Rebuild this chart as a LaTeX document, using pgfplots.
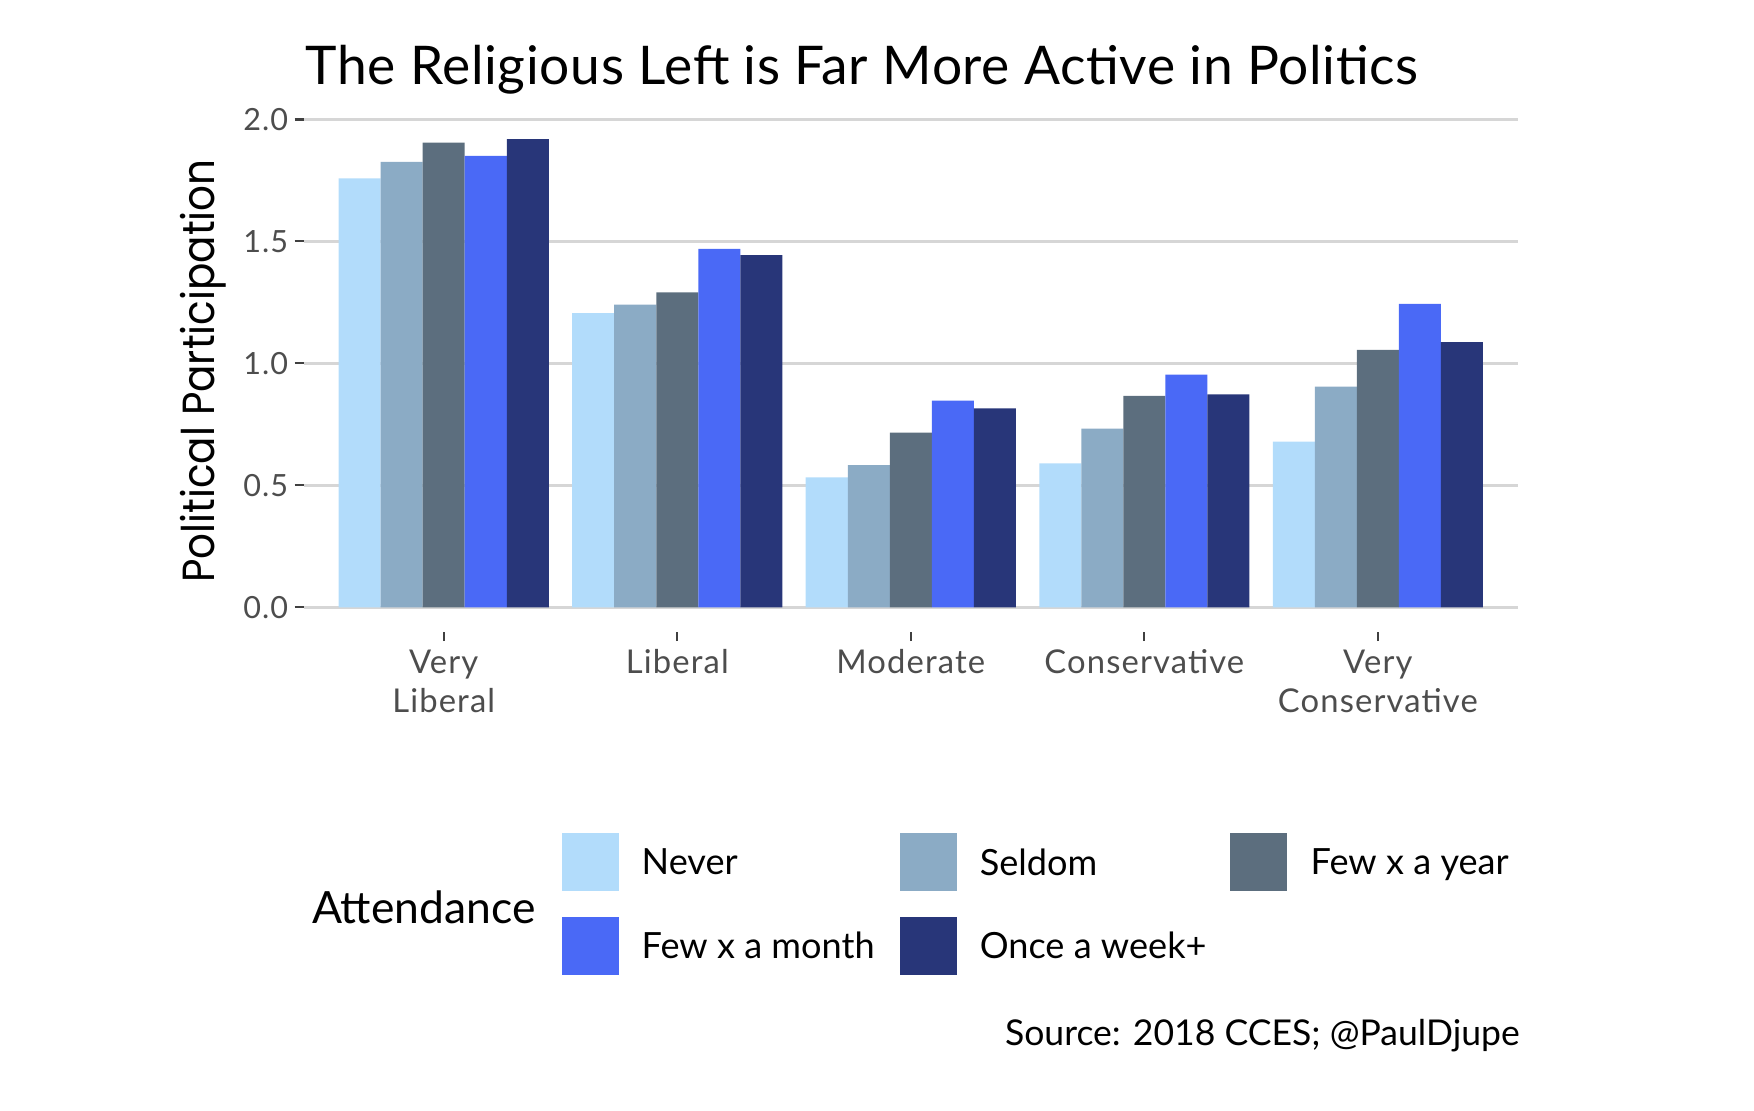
\documentclass[border=0pt]{standalone}
\usepackage{fontspec}
\setmainfont{Lato}
\newfontfamily\lsfont{Lato}[LetterSpace=3.5]
\newfontfamily\titlefont{Lato}[LetterSpace=1.2]
\newfontfamily\ylabfont{Poppins}[FakeStretch=0.9]
\usepackage{pgfplots}
\pgfplotsset{compat=1.18}
\definecolor{cNever}{HTML}{B2DCFB}
\definecolor{cSeldom}{HTML}{8BABC5}
\definecolor{cYear}{HTML}{5C6E7E}
\definecolor{cMonth}{HTML}{4A69F6}
\definecolor{cWeek}{HTML}{283679}
\definecolor{tickgray}{HTML}{4D4D4D}
\definecolor{gridgray}{HTML}{D6D6D6}
\newcommand{\lt}[2][0pt]{\raisebox{-1.2pt}{\makebox[#1][l]{#2}}}
\begin{document}
\begin{tikzpicture}
\begin{axis}[
  scale only axis, clip=false,
  width=437.18pt, height=185.62pt,
  xmin=0.4, xmax=5.6, ymin=-0.1013, ymax=2.0126,
  ybar=0pt, bar width=15.133pt,
  axis line style={draw=none},
  xtick={1,2,3,4,5},
  xticklabels={{Very\\Liberal},Liberal,Moderate,Conservative,{Very\\Conservative}},
  ytick={0,0.5,1,1.5,2},
  yticklabels={0.0,0.5,1.0,1.5,2.0},
  tick align=outside, xtick pos=left, ytick pos=left,
  major tick length=3.24pt,
  major tick style={color=black!75, line width=0.75pt},
  ymajorgrids,
  grid style={color=gridgray, line width=1.1pt},
  xticklabel style={anchor=north, align=center, inner sep=0pt, yshift=-2.9pt, text=tickgray, font=\lsfont\fontsize{11.8}{14.2}\selectfont},
  yticklabel style={anchor=east, inner sep=0pt, xshift=-2.1pt, text=tickgray, font=\lsfont\fontsize{11}{12}\selectfont},
  legend columns=3,
  legend cell align=left,
  legend image code/.code={\fill[#1,draw=none] (0pt,-10.44pt) rectangle (20.52pt,10.44pt);},
  legend style={at={(axis description cs:0.21295,-0.39026)}, anchor=north west,
    draw=none, fill=none, inner sep=0pt, outer sep=0pt, row sep=9.3pt,
    font=\fontsize{13}{16}\selectfont, nodes={inner sep=0pt},
    /tikz/every odd column/.append style={column sep=8.1pt},
    /tikz/every even column/.append style={column sep=0pt}},
]
\addplot[fill=cNever, draw=none] coordinates {(1,1.758) (2,1.206) (3,0.533) (4,0.590) (5,0.679)};
\addplot[fill=cSeldom, draw=none] coordinates {(1,1.826) (2,1.241) (3,0.583) (4,0.733) (5,0.905)};
\addplot[fill=cYear, draw=none] coordinates {(1,1.905) (2,1.291) (3,0.716) (4,0.867) (5,1.055)};
\addplot[fill=cMonth, draw=none] coordinates {(1,1.851) (2,1.469) (3,0.847) (4,0.954) (5,1.244)};
\addplot[fill=cWeek, draw=none] coordinates {(1,1.919) (2,1.444) (3,0.816) (4,0.873) (5,1.087)};
\legend{\lt[93.1pt]{Never},\lt[90pt]{Seldom},\lt{Few x a year},\lt[93.1pt]{Few x a month},\lt[90pt]{Once a week+}}
\node[anchor=base west, inner sep=0pt, font=\titlefont\fontsize{19.2}{23}\selectfont] at (axis description cs:0.00115,1.0609) {The Religious Left is Far More Active in Politics};
\node[rotate=90, anchor=base, inner sep=0pt, font=\ylabfont\fontsize{16.2}{19}\selectfont] at (axis description cs:-0.07296,0.5062) {Political Participation};
\node[anchor=base west, inner sep=0pt, font=\fontsize{16}{20}\selectfont] at (axis description cs:0.0066,-0.5646) {Attendance};
\node[anchor=base east, inner sep=0pt, font=\fontsize{12.8}{16}\selectfont] at (axis description cs:1.0018,-0.801) {Source: 2018 CCES; @PaulDjupe};
\coordinate (BL) at (axis description cs:-0.25,-0.92708);
\coordinate (TR) at (axis description cs:1.19433,1.22576);
\end{axis}
\pgfresetboundingbox
\path[use as bounding box] (BL) rectangle (TR);
\end{tikzpicture}
\end{document}
